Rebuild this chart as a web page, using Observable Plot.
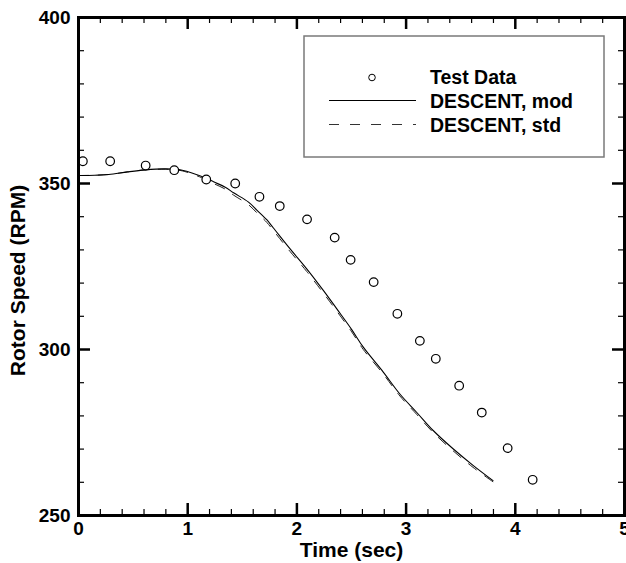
<!DOCTYPE html>
<html>
<head>
<meta charset="utf-8">
<script src="https://cdn.jsdelivr.net/npm/d3@7"></script>
<script src="https://cdn.jsdelivr.net/npm/@observablehq/plot@0.6"></script>
<style>
  html, body { margin: 0; padding: 0; background: #fff; }
  #wrap { position: relative; width: 626px; height: 563px; }
  #legend { position: absolute; left: 0; top: 0; pointer-events: none; }
</style>
</head>
<body>
<div id="wrap"></div>
<script>
// ---- data ----
const testTime = [0.04, 0.29, 0.615, 0.877, 1.17, 1.435, 1.657, 1.843, 2.093, 2.346, 2.492, 2.703, 2.92, 3.126, 3.272, 3.486, 3.693, 3.93, 4.159];
const testRpm  = [356.7, 356.7, 355.4, 354.0, 351.2, 350.0, 346.0, 343.2, 339.2, 333.7, 327.0, 320.3, 310.75, 302.6, 297.2, 289.1, 281.0, 270.3, 260.75];

const modTime = [0, 0.15, 0.277, 0.45, 0.61, 0.795, 0.95, 1.16, 1.237, 1.344, 1.42, 1.557, 1.633, 1.724, 1.785, 1.938, 2.09, 2.242, 2.364, 2.502, 2.608, 2.791, 2.943, 3.096, 3.248, 3.43, 3.613, 3.796];
const modRpm  = [352.4, 352.5, 352.7, 353.5, 354.1, 354.4, 354.0, 351.7, 350.5, 348.9, 347.2, 344.4, 342.0, 339.1, 336.6, 330.3, 324.3, 317.8, 312.3, 306.0, 300.7, 293.2, 286.6, 281.1, 275.6, 270.1, 265.1, 260.5];

const stdTime = [0, 0.15, 0.277, 0.45, 0.61, 0.795, 0.95, 1.16, 1.237, 1.344, 1.42, 1.557, 1.633, 1.724, 1.785, 1.938, 2.09, 2.242, 2.364, 2.502, 2.608, 2.791, 2.943, 3.096, 3.248, 3.43, 3.613, 3.82];
const stdRpm  = [352.4, 352.5, 352.7, 353.5, 354.1, 354.3, 353.8, 351.3, 350.0, 348.3, 346.5, 343.6, 341.2, 338.3, 335.8, 329.5, 323.5, 317.0, 311.6, 305.3, 300.0, 292.6, 286.0, 280.5, 275.0, 269.5, 264.5, 259.6];

const xMajor = [0, 1, 2, 3, 4, 5];
const xMinor = d3.range(0, 5.0001, 0.2).map(v => +v.toFixed(1)).filter(v => !Number.isInteger(v));
const yMajor = [250, 300, 350, 400];
const yMinor = d3.range(250, 401, 10).filter(v => v % 50 !== 0);

const seriesNames = ["Test Data", "DESCENT, mod", "DESCENT, std"];

const testData = testTime.map((t, i) => ({t, rpm: testRpm[i]}));
const modData = modTime.map((t, i) => ({t, rpm: modRpm[i]}));
const stdData = stdTime.map((t, i) => ({t, rpm: stdRpm[i]}));

// ---- layout ----
const W = 626, H = 563;
const mL = 78, mR = 2, mT = 17, mB = 48;
const innerW = W - mL - mR, innerH = H - mT - mB;
const font = "'Liberation Sans', Arial, Helvetica, sans-serif";

const chart = Plot.plot({
  width: W, height: H,
  marginLeft: mL, marginRight: mR, marginTop: mT, marginBottom: mB,
  style: {fontFamily: font, fontWeight: "bold", background: "#fff", color: "#000", overflow: "visible"},
  x: {domain: [0, 5], nice: false},
  y: {domain: [250, 400], nice: false},
  marks: [
    // tick labels
    Plot.axisX({ticks: xMajor, tickSize: 0, tickPadding: 6, fontSize: 19, fontWeight: "bold", label: null, tickFormat: d => String(d)}),
    Plot.axisY({ticks: yMajor, tickSize: 0, tickPadding: 8, fontSize: 19, fontWeight: "bold", label: null, tickFormat: d => String(d)}),
    // inward ticks on all four sides
    Plot.tickX(xMajor, {x: d => d, insetTop: innerH - 12, stroke: "#000", strokeWidth: 2.5}),
    Plot.tickX(xMajor, {x: d => d, insetBottom: innerH - 12, stroke: "#000", strokeWidth: 2.5}),
    Plot.tickX(xMinor, {x: d => d, insetTop: innerH - 6, stroke: "#000", strokeWidth: 1.2}),
    Plot.tickX(xMinor, {x: d => d, insetBottom: innerH - 6, stroke: "#000", strokeWidth: 1.2}),
    Plot.tickY(yMajor, {y: d => d, insetRight: innerW - 12, stroke: "#000", strokeWidth: 2.5}),
    Plot.tickY(yMajor, {y: d => d, insetLeft: innerW - 12, stroke: "#000", strokeWidth: 2.5}),
    Plot.tickY(yMinor, {y: d => d, insetRight: innerW - 6, stroke: "#000", strokeWidth: 1.2}),
    Plot.tickY(yMinor, {y: d => d, insetLeft: innerW - 6, stroke: "#000", strokeWidth: 1.2}),
    // series
    Plot.line(stdData, {x: "t", y: "rpm", curve: "catmull-rom", stroke: "#222", strokeWidth: 1, strokeDasharray: "10,10"}),
    Plot.line(modData, {x: "t", y: "rpm", curve: "catmull-rom", stroke: "#000", strokeWidth: 1.1}),
    Plot.dot(testData, {x: "t", y: "rpm", r: 4.3, stroke: "#000", strokeWidth: 1.2, fill: "#fff"}),
    // frame
    Plot.frame({stroke: "#000", strokeWidth: 3}),
    // axis titles
    Plot.text(["Time (sec)"], {frameAnchor: "bottom", text: d => d, textAnchor: "middle", dy: 34.5, lineAnchor: "middle", fontSize: 21, fontWeight: "bold"}),
    Plot.text(["Rotor Speed (RPM)"], {frameAnchor: "left", text: d => d, textAnchor: "middle", rotate: -90, dx: -60.5, dy: 14, lineAnchor: "middle", fontSize: 21, fontWeight: "bold"})
  ]
});

const wrap = document.getElementById("wrap");
wrap.appendChild(chart);

// ---- legend (overlay) ----
const leg = d3.select(wrap).append("svg")
  .attr("id", "legend").attr("width", W).attr("height", H)
  .style("font-family", font).style("font-weight", "bold");
leg.append("rect").attr("x", 304).attr("y", 36).attr("width", 300).attr("height", 121)
  .attr("fill", "#fff").attr("stroke", "#7a7a7a").attr("stroke-width", 1.5);
const rows = [84, 108, 131.5];
leg.append("circle").attr("cx", 372).attr("cy", rows[0] - 6.5).attr("r", 3.3)
  .attr("fill", "none").attr("stroke", "#000").attr("stroke-width", 1);
leg.append("line").attr("x1", 329).attr("x2", 416).attr("y1", rows[1] - 7.5).attr("y2", rows[1] - 7.5)
  .attr("stroke", "#000").attr("stroke-width", 1.1);
leg.append("line").attr("x1", 329).attr("x2", 416).attr("y1", rows[2] - 7).attr("y2", rows[2] - 7)
  .attr("stroke", "#333").attr("stroke-width", 1).attr("stroke-dasharray", "10,11");
seriesNames.forEach((name, i) => {
  leg.append("text").attr("x", 430).attr("y", rows[i]).attr("font-size", 19.5).attr("fill", "#000").text(name);
});
</script>
</body>
</html>
